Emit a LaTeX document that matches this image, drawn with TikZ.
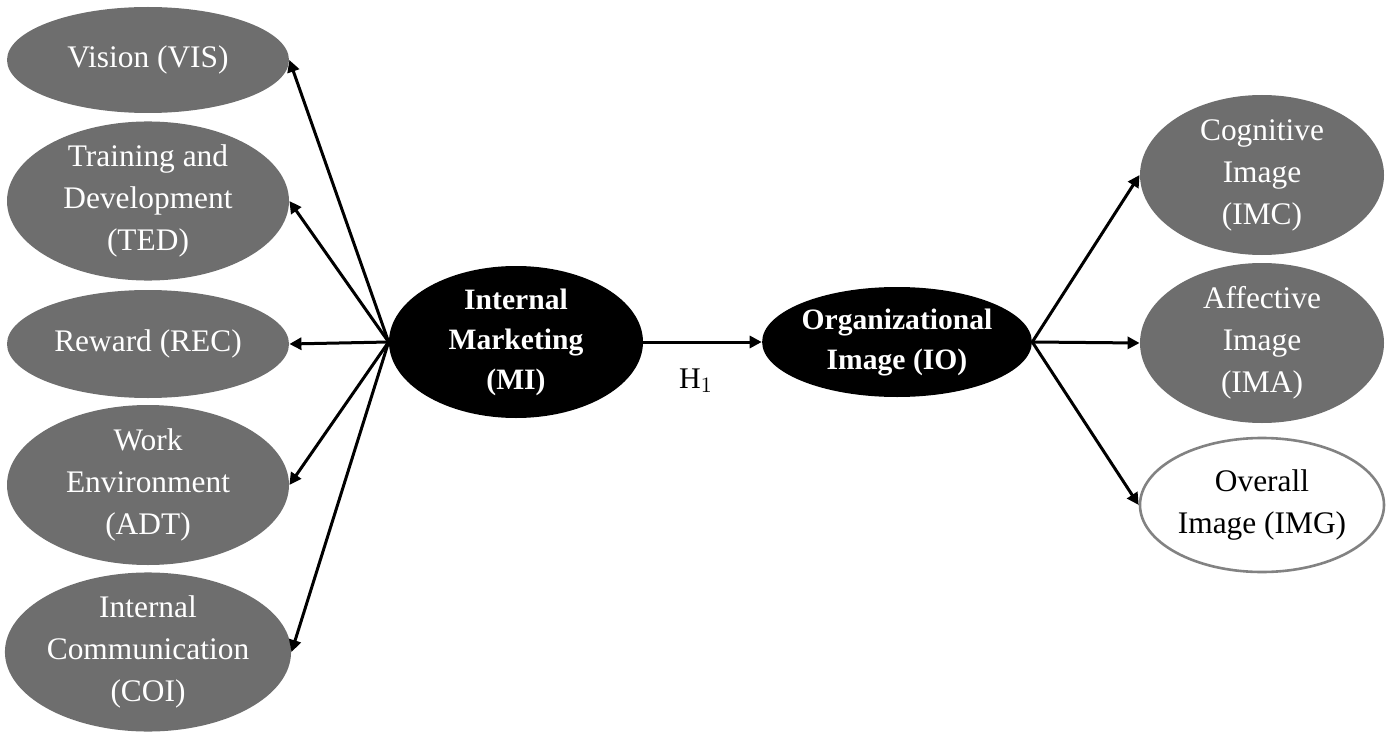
\documentclass[tikz,border=0pt]{standalone}
\usepackage{fontspec}
\setmainfont{Liberation Serif}
\usetikzlibrary{shapes.geometric,arrows.meta}
\definecolor{ovgrey}{RGB}{110,110,110}
\definecolor{ovline}{RGB}{130,130,130}
\tikzset{
  latent/.style={ellipse,fill=ovgrey,text=white,align=center,inner sep=0pt,
    font=\fontsize{15.7pt}{21pt}\selectfont},
  mainvar/.style={ellipse,fill=black,text=white,align=center,inner sep=0pt,
    font=\fontsize{14.8pt}{20pt}\selectfont\bfseries},
  whitevar/.style={ellipse,fill=white,draw=ovline,line width=1.3pt,text=black,align=center,inner sep=0pt,
    font=\fontsize{15.7pt}{21pt}\selectfont},
  conn/.style={line width=1.5pt,-{Triangle[length=6pt,width=6pt]}},
}
\begin{document}
\begin{tikzpicture}[x=0.5pt,y=-0.5pt]
\useasboundingbox (0,0) rectangle (1387,733);
% left latent ellipses
\node[latent,minimum width=141pt,minimum height=53pt] (vis) at (148,60) {Vision (VIS)};
\node[latent,minimum width=141pt,minimum height=79pt] (ted) at (148,201) {Training and\\Development\\(TED)};
\node[latent,minimum width=141pt,minimum height=54pt] (rec) at (148,344) {Reward (REC)};
\node[latent,minimum width=141pt,minimum height=80pt] (adt) at (148,485) {Work\\Environment\\(ADT)};
\node[latent,minimum width=141pt,minimum height=78pt] (coi) at (148,652) {Internal\\Communication\\(COI)};
% central
\node[mainvar,minimum width=127pt,minimum height=76pt] (mi) at (516,342) {Internal\\Marketing\\(MI)};
\node[mainvar,minimum width=133pt,minimum height=55pt] (io) at (897,342) {Organizational\\Image (IO)};
% right
\node[latent,minimum width=122pt,minimum height=80pt] (imc) at (1262,175) {Cognitive\\Image\\(IMC)};
\node[latent,minimum width=122pt,minimum height=80pt] (ima) at (1262,343) {Affective\\Image\\(IMA)};
\node[whitevar,minimum width=122pt,minimum height=67pt] (img) at (1262,505) {Overall\\Image (IMG)};
% label
\node[font=\fontsize{15pt}{18pt}\selectfont] (h1) at (696,381) {H$_1$};
% connectors
\foreach \t in {vis,ted,rec,adt,coi}
  \draw[conn] (mi.west) -- (\t.east);
\draw[conn] (mi.east) -- (io.west);
\foreach \t in {imc,ima,img}
  \draw[conn] (io.east) -- (\t.west);
\end{tikzpicture}
\end{document}
